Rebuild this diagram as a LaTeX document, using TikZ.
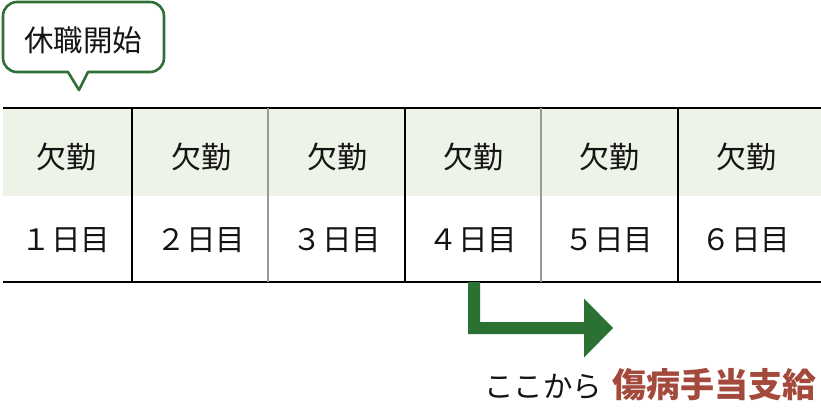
\documentclass[tikz,border=0pt]{standalone}
\usepackage{fontspec}
\setmainfont{Noto Sans CJK JP}
\definecolor{bubgreen}{HTML}{2E6F35}
\definecolor{arrgreen}{HTML}{2B7131}
\definecolor{rowgreen}{HTML}{EEF3E8}
\definecolor{payred}{HTML}{A34A3C}
\definecolor{txt}{HTML}{141414}
\tikzset{
  celltext/.style={inner sep=0pt, text=txt, font=\fontsize{30}{32}\selectfont},
  daytext/.style={inner sep=0pt, text=txt, font=\fontsize{29.5}{32}\selectfont},
  rule/.style={line width=1.4pt, black},
  sep/.style={line width=1.2pt, black},
  sepgray/.style={line width=1.3pt, gray!80},
}
\begin{document}
\begin{tikzpicture}[x=1pt,y=-1pt]
\useasboundingbox (0,0) rectangle (821,415);
% green row
\fill[rowgreen] (3,109) rectangle (821,196);
% bubble
\draw[bubgreen, line width=2.6pt, line join=round]
  (79,90) -- (88,72) [rounded corners=14] -- (164,72) -- (164,2) -- (3,2) -- (3,72) [sharp corners] -- (68,72) -- cycle;
\node[inner sep=0pt, text=txt, font=\fontsize{29.5}{32}\selectfont] (bub) at (83,40) {休職開始};
% table rules
\coordinate (tl) at (3,108);
\coordinate (tr) at (821,108);
\coordinate (bl) at (3,282);
\coordinate (br) at (821,282);
\draw[rule] (tl) -- (tr);
\draw[rule] (bl) -- (br);
\foreach \x/\s in {132/sep,268/sepgray,405/sep,541/sepgray,678/sep}{
  \draw[\s] (\x,108) -- (\x,282);
}
% cells
\foreach \i/\x/\d in {1/66/１,2/201/２,3/337/３,4/473/４,5/609/５,6/746/６}{
  \node[celltext] (a\i) at (\x,157) {欠勤};
  \node[daytext] (d\i) at (\x,240) {\d 日目};
}
% arrow
\fill[arrgreen] (468,282) -- (480,282) -- (480,322) -- (584,322) -- (584,298.5) -- (613,328) -- (584,357.5) -- (584,334) -- (468,334) -- cycle;
% bottom text
\node[anchor=base west, inner sep=0pt, text=txt] (here) at (484,397)
  {\fontsize{29.5}{32}\selectfont ここから\hspace{10pt}\textcolor{payred}{\fontsize{34}{36}\selectfont\bfseries 傷病手当支給}};
\end{tikzpicture}
\end{document}
